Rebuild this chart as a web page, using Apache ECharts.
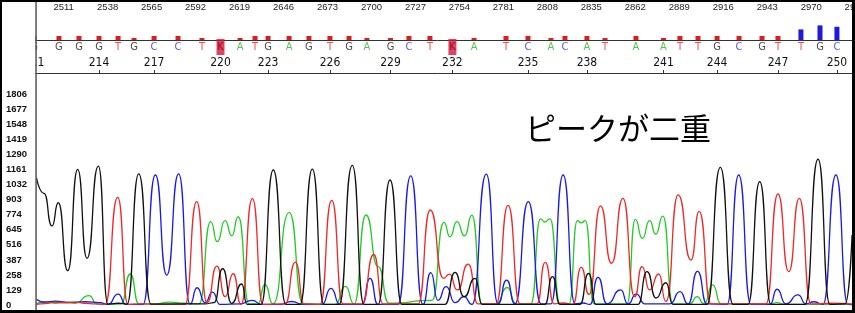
<!DOCTYPE html>
<html><head><meta charset="utf-8">
<script src="https://cdn.jsdelivr.net/npm/echarts@6/dist/echarts.min.js"></script>
<style>html,body{margin:0;padding:0;background:#fff}#c{width:855px;height:313px}</style>
</head><body><div id="c"></div>
<script>
// ---- data ----
const scanTicks = [2511,2538,2565,2592,2619,2646,2673,2700,2727,2754,2781,2808,2835,2862,2889,2916,2943,2970,2997];
const yTicks = [0,129,258,387,516,645,774,903,1032,1161,1290,1419,1548,1677,1806];
const baseNum = [211,212,213,214,215,216,217,218,219,220,221,222,223,224,225,226,227,228,229,230,231,232,233,234,235,236,237,238,239,240,241,242,243,244,245,246,247,248,249,250];
const basePos = [2492.8,2508.1,2520.4,2532.7,2544.4,2554.2,2566.5,2581.2,2595.9,2607.3,2619.3,2628.5,2636.5,2649.4,2661.6,2674.5,2686.2,2697.2,2711.7,2723.0,2735.9,2749.7,2763.0,2782.6,2796.1,2810.2,2818.8,2832.3,2843.4,2862.4,2879.3,2889.4,2900.5,2912.2,2925.7,2939.8,2949.6,2963.7,2975.4,2985.8];
const baseCall = ['G','G','G','G','T','G','C','C','T','K','A','T','G','A','G','T','G','A','G','C','T','K','A','T','C','A','C','A','T','A','A','T','T','G','C','G','T','T','G','C'];
const quality = [20,20,20,20,20,10,20,20,10,0,10,20,20,20,20,20,20,10,10,20,20,0,10,20,20,10,20,20,10,20,10,20,20,20,20,20,20,53,73,66];

const traceG = [[2494.3,1090],[2498.9,958],[2503.8,678],[2507.7,877],[2513.5,294],[2519.6,1164],[2525.3,400],[2532.3,1192],[2538.2,8],[2544.4,15],[2549.9,8],[2557.1,1124],[2564.6,8],[2597.8,10],[2603.3,20],[2608.6,311],[2614.2,14],[2620.3,180],[2623.6,5],[2632.2,5],[2639.7,1158],[2647.5,5],[2656.1,5],[2663.7,1166],[2670.8,5],[2680.1,5],[2688.2,1198],[2695.4,5],[2704.0,5],[2711.4,1072],[2718.7,5],[2745.1,5],[2751.3,280],[2756.8,71],[2763.6,229],[2767.9,5],[2806.5,5],[2811.1,243],[2815.8,5],[2828.0,5],[2833.3,272],[2837.9,5],[2863.6,5],[2869.2,286],[2874.7,60],[2880.8,191],[2885.1,5],[2906.0,5],[2914.2,1181],[2922.0,5],[2931.2,5],[2938.4,1058],[2945.3,5],[2966.2,5],[2974.2,1250],[2981.5,5],[2990.8,10],[2995.1,600]];
const traceT = [[2494.3,5],[2499.5,12],[2505.7,25],[2511.8,18],[2518.0,25],[2524.1,15],[2530.2,10],[2536.4,5],[2544.2,924],[2550.5,5],[2557.9,10],[2570.1,5],[2585.5,5],[2592.7,886],[2599.0,20],[2605.1,333],[2610.1,71],[2615.1,268],[2619.9,5],[2626.9,912],[2633.4,5],[2646.9,10],[2653.3,368],[2658.6,10],[2668.4,5],[2675.6,898],[2682.5,10],[2694.2,10],[2701.4,433],[2707.1,10],[2728.6,10],[2736.1,815],[2744.2,229],[2747.9,264],[2752.7,129],[2759.4,350],[2765.4,10],[2776.5,10],[2783.9,855],[2791.2,10],[2801.6,10],[2806.7,365],[2812.1,10],[2817.6,17],[2823.7,8],[2828.8,323],[2833.6,90],[2840.6,850],[2847.4,358],[2854.4,915],[2861.6,71],[2866.1,329],[2870.8,129],[2876.4,266],[2880.8,30],[2888.3,944],[2896.2,386],[2901.2,803],[2908.5,10],[2942.2,10],[2949.6,952],[2956.2,286],[2962.7,915],[2969.9,10],[2981.5,15],[2995.7,8]];
const traceA = [[2494.3,10],[2499.5,28],[2505.7,15],[2511.8,25],[2518.0,15],[2526.5,80],[2531.5,10],[2539.4,5],[2546.2,10],[2551.9,266],[2557.2,10],[2567.1,10],[2576.3,25],[2585.5,15],[2594.1,10],[2601.3,715],[2605.3,543],[2610.1,723],[2614.2,594],[2618.2,757],[2624.8,10],[2630.3,10],[2634.6,176],[2639.5,10],[2649.5,795],[2658.0,10],[2677.6,5],[2684.0,160],[2689.3,10],[2696.6,772],[2704.0,330],[2710.8,15],[2737.2,40],[2744.5,708],[2748.2,585],[2752.5,715],[2757.1,593],[2761.7,770],[2767.9,10],[2776.5,10],[2783.4,150],[2788.7,10],[2797.9,10],[2803.8,738],[2806.5,712],[2809.6,738],[2815.8,10],[2821.3,10],[2826.4,723],[2828.8,705],[2831.3,723],[2836.6,10],[2856.9,10],[2862.0,735],[2866.3,572],[2870.8,723],[2874.5,609],[2879.0,763],[2885.1,10],[2895.6,10],[2899.9,71],[2904.2,10],[2909.5,172],[2914.6,10],[2944.7,10],[2949.0,20],[2953.9,5],[2995.7,5]];
const traceC = [[2494.3,50],[2499.5,25],[2505.7,32],[2514.9,22],[2524.1,28],[2533.3,20],[2538.2,5],[2544.4,94],[2549.3,5],[2559.7,5],[2567.3,1115],[2574.3,257],[2581.6,1124],[2588.6,8],[2592.9,148],[2597.8,20],[2602.4,110],[2607.0,5],[2619.3,10],[2626.6,40],[2632.8,5],[2643.8,5],[2651.0,30],[2658.0,5],[2669.6,5],[2675.1,143],[2680.7,5],[2694.2,5],[2699.1,229],[2704.0,5],[2716.3,5],[2724.1,1108],[2731.6,5],[2736.4,278],[2740.8,40],[2745.8,157],[2751.3,20],[2756.8,71],[2761.7,5],[2770.5,1122],[2777.7,10],[2783.0,214],[2788.1,10],[2796.3,886],[2804.1,10],[2810.2,10],[2817.7,1115],[2825.0,10],[2829.9,17],[2834.2,5],[2839.1,237],[2844.6,10],[2853.0,129],[2857.5,10],[2862.6,94],[2867.9,10],[2883.3,10],[2889.4,114],[2894.4,10],[2900.2,289],[2906.0,10],[2918.3,5],[2925.5,1115],[2933.0,5],[2944.7,5],[2949.0,135],[2954.5,10],[2961.9,86],[2966.8,10],[2971.5,28],[2977.2,5],[2985.2,1115],[2992.6,5],[2995.7,0]];

// ---- layout / style ----
const X_MIN = 2484, X_MAX = 2998;
const GL = 19.7, GW = 837.1;
const callColor = {G:'#111111', T:'#e8202a', C:'#2233cc', A:'#22bb22', K:'#7a0010'};
const traceColor = {A:'#22cc22', C:'#1a1ae6', G:'#111111', T:'#f02828'};
const narrow = '"Liberation Sans Narrow","DejaVu Sans Condensed","Liberation Sans",sans-serif';

const tickedPos = basePos.filter((p, i) => i % 3 === 0);
function baseLabel(v) {
  let best = 0, bd = 1e9;
  basePos.forEach((p, i) => { const d = Math.abs(p - v); if (d < bd) { bd = d; best = i; } });
  return String(baseNum[best]);
}
const plain = v => String(v);

const letterData = basePos.map((p, i) => ({
  value: [p, 26], name: baseCall[i],
  label: { color: callColor[baseCall[i]] }
}));
const ambData = basePos.map((p, i) => baseCall[i] === 'K' ? [p, 26] : null).filter(d => d);
const qualData = basePos.map((p, i) => [p, quality[i]]);

const xBase = { type: 'value', min: X_MIN, max: X_MAX, splitLine: { show: false } };
const hiddenX = (g) => Object.assign({}, xBase, { gridIndex: g, show: false });

function traceSeries(name, data, color) {
  return {
    type: 'line', name, xAxisIndex: 2, yAxisIndex: 2, data,
    showSymbol: false, smooth: 0.6, smoothMonotone: 'x',
    lineStyle: { color, width: 1.3 }, itemStyle: { color },
    silent: true, animation: false, clip: true
  };
}

const chart = echarts.init(document.getElementById('c'), null, { renderer: 'canvas' });
chart.setOption({
  animation: false,
  backgroundColor: '#ffffff',
  grid: [
    { left: GL, width: GW, top: 15, height: 25, containLabel: false, outerBoundsMode: 'none' },
    { left: GL, width: GW, top: 40, height: 33, containLabel: false, outerBoundsMode: 'none' },
    { left: GL, width: GW, top: 73, bottom: 8, containLabel: false, outerBoundsMode: 'none' }
  ],
  xAxis: [
    Object.assign({}, xBase, {
      gridIndex: 0, position: 'top',
      axisLine: { show: true, lineStyle: { color: '#333', width: 1 } },
      axisTick: { show: false },
      axisLabel: { customValues: scanTicks, formatter: plain, margin: 3, fontSize: 9.5, color: '#222',
                   fontFamily: 'Liberation Sans, Arial, sans-serif', showMinLabel: true, showMaxLabel: true }
    }),
    Object.assign({}, xBase, {
      gridIndex: 1, position: 'bottom',
      axisLine: { show: true, lineStyle: { color: '#333', width: 1 } },
      axisTick: { show: true, inside: true, length: 3, customValues: tickedPos, lineStyle: { color: '#333' } },
      axisLabel: { inside: true, margin: 4, customValues: tickedPos, formatter: baseLabel,
                   fontSize: 12, color: '#111', fontFamily: narrow }
    }),
    hiddenX(2)
  ],
  yAxis: [
    { type: 'value', gridIndex: 0, min: 0, max: 125, show: false },
    { type: 'value', gridIndex: 1, min: 0, max: 33, show: false },
    { type: 'value', gridIndex: 2, min: 0, max: 1990,
      axisLine: { show: false }, axisTick: { show: false }, splitLine: { show: false },
      axisLabel: { customValues: yTicks, formatter: plain, align: 'left', margin: 13.7, fontSize: 9.5, fontWeight: 'bold',
                   color: '#111', fontFamily: 'Liberation Sans, Arial, sans-serif' } }
  ],
  series: [
    { type: 'bar', xAxisIndex: 0, yAxisIndex: 0, data: qualData, barWidth: 5, silent: true,
      itemStyle: { color: p => p.value[1] >= 40 ? '#1a1ae0' : '#e41a1a' } },
    { type: 'scatter', xAxisIndex: 1, yAxisIndex: 1, data: ambData, symbol: 'rect', symbolSize: [8, 16],
      itemStyle: { color: '#d8143a' }, silent: true, clip: false, z: 2 },
    { type: 'scatter', xAxisIndex: 1, yAxisIndex: 1, data: letterData, symbolSize: 1, silent: true, clip: false,
      itemStyle: { color: 'transparent' }, z: 3,
      label: { show: true, position: 'inside', formatter: '{b}', fontSize: 11, fontFamily: narrow } },
    traceSeries('A', traceA, traceColor.A),
    traceSeries('C', traceC, traceColor.C),
    traceSeries('T', traceT, traceColor.T),
    traceSeries('G', traceG, traceColor.G)
  ],
  graphic: [
    { type: 'text', left: 525, top: 113, z: 40,
      style: { text: 'ピークが二重', font: '31px "Noto Sans CJK JP"', fill: '#000' } },
    { type: 'rect', zlevel: 1, shape: { x: 2, y: 2, width: 33.4, height: 73 }, style: { fill: '#fff' } },
    { type: 'rect', zlevel: 1, shape: { x: 35.3, y: 0, width: 1.5, height: 311 }, style: { fill: '#555' } },
    { type: 'rect', zlevel: 1, shape: { x: 0, y: 0, width: 2, height: 313 }, style: { fill: '#000' } },
    { type: 'rect', zlevel: 1, shape: { x: 0, y: 0, width: 855, height: 2 }, style: { fill: '#000' } },
    { type: 'rect', zlevel: 1, shape: { x: 852, y: 0, width: 3, height: 313 }, style: { fill: '#000' } },
    { type: 'rect', zlevel: 1, shape: { x: 0, y: 310, width: 855, height: 3 }, style: { fill: '#000' } }
  ]
});
</script>
</body></html>
